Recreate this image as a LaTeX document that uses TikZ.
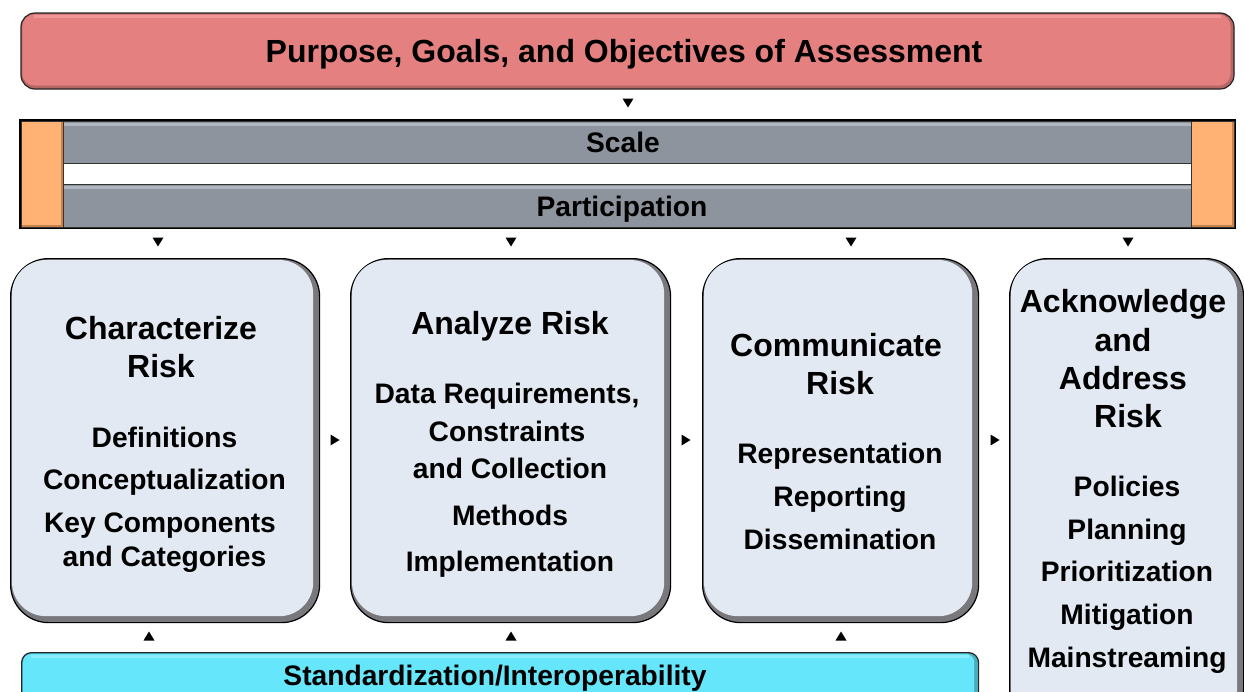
\documentclass[tikz,border=0pt]{standalone}
\usepackage{fontspec}
\setmainfont{Liberation Sans}
\usetikzlibrary{calc}
\definecolor{titlered}{RGB}{229,128,128}
\definecolor{titlehi}{RGB}{240,150,150}
\definecolor{bargray}{RGB}{142,148,157}
\definecolor{barhi}{RGB}{176,182,192}
\definecolor{orng}{RGB}{255,178,115}
\definecolor{orngdk}{RGB}{200,130,75}
\definecolor{boxfill}{RGB}{227,233,242}
\definecolor{boxrim}{RGB}{120,120,125}
\definecolor{cyanbox}{RGB}{102,230,250}
\definecolor{cyanhi}{RGB}{140,238,252}
\tikzset{
  hd/.style={font=\fontsize{32}{38}\selectfont\bfseries, anchor=base, inner sep=0pt},
  itm/.style={font=\fontsize{28.2}{34}\selectfont\bfseries, anchor=base, inner sep=0pt},
  bartxt/.style={font=\fontsize{28.2}{34}\selectfont\bfseries, anchor=base, inner sep=0pt},
  stepbox/.style={draw=black, line width=1.2pt, rectangle, rounded corners=38pt, fill=boxrim},
  titlebox/.style={draw=black!85, line width=1.2pt, rectangle, rounded corners=14pt, fill=titlered!80!black},
  graybar/.style={draw=black!80, line width=1pt, rectangle, fill=bargray},
  sidebar/.style={draw=black!80, line width=1pt, rectangle, fill=orngdk},
  cyanframe/.style={draw=black!85, line width=1.2pt, rectangle, rounded corners=10pt, fill=cyanbox!75!black},
  tipfill/.style={fill=black}
}
\begin{document}
\begin{tikzpicture}[x=1pt,y=-1pt]
\useasboundingbox (0,0) rectangle (1244,691);
\clip (0,0) rectangle (1244,691);

% title
\node[titlebox, minimum width=1213, minimum height=76] (title) at (627.5,51) {};
\fill[titlered, rounded corners=12pt] ($(title.north west)+(2,2)$) rectangle ($(title.south east)+(-4,-4)$);
\fill[titlehi] ($(title.north west)+(14,3)$) rectangle ($(title.north east)+(-14,6)$);
\node[font=\fontsize{32}{38}\selectfont\bfseries, inner sep=0pt, anchor=base] (titletxt) at (624,62) {Purpose, Goals, and Objectives of Assessment};

% bars frame
\node[draw=black, line width=1.2pt, rectangle, minimum width=1215, minimum height=108, fill=white] (bars) at (627.5,174) {};
\node[sidebar, minimum width=42, minimum height=106, anchor=north west] (lside) at (21,121) {};
\fill[orng] ($(lside.north west)+(1,1)$) rectangle ($(lside.south east)+(-3,-3)$);
\node[sidebar, minimum width=43, minimum height=106, anchor=north west] (rside) at (1191,121) {};
\fill[orng] ($(rside.north west)+(1,1)$) rectangle ($(rside.south east)+(-3,-3)$);
\node[graybar, minimum width=1128, minimum height=42, anchor=north west] (scale) at (63,121) {};
\fill[barhi] ($(scale.north west)+(1,2)$) rectangle ($(scale.north east)+(-1,5)$);
\node[bartxt] (scaletxt) at (623,152) {Scale};
\node[graybar, minimum width=1128, minimum height=43, anchor=north west] (part) at (63,184) {};
\fill[barhi] ($(part.north west)+(1,2)$) rectangle ($(part.north east)+(-1,5)$);
\node[bartxt] (parttxt) at (622,216) {Participation};

% step boxes
\node[stepbox, minimum width=309, minimum height=364, anchor=north west] (b1) at (10,258) {};
\node[stepbox, minimum width=320, minimum height=364, anchor=north west] (b2) at (350,258) {};
\node[stepbox, minimum width=276, minimum height=364, anchor=north west] (b3) at (702,258) {};
\node[stepbox, minimum width=234, minimum height=470, anchor=north west] (b4) at (1009,258) {};
\foreach \b in {b1,b2,b3,b4}{
  \fill[boxfill, rounded corners=34pt] ($(\b.north west)+(2,2)$) rectangle ($(\b.south east)+(-7,-7)$);
}

% cyan bar
\node[cyanframe, minimum width=957, minimum height=70, anchor=north west] (std) at (21,652) {};
\fill[cyanbox, rounded corners=8pt] ($(std.north west)+(2,2)$) rectangle ($(std.south east)+(-5,-5)$);
\fill[cyanhi] ($(std.north west)+(10,3)$) rectangle ($(std.north east)+(-10,6)$);
\node[bartxt] (stdtxt) at (495,685) {Standardization/Interoperability};

% box 1 text
\node[hd] (h1a) at (161,339) {Characterize};
\node[hd] (h1b) at (161,377) {Risk};
\node[itm] (i1a) at (164.5,447) {Definitions};
\node[itm] (i1b) at (164.5,489) {Conceptualization};
\node[itm] (i1c) at (160,532) {Key Components};
\node[itm] (i1d) at (164.5,566) {and Categories};

% box 2 text
\node[hd] (h2a) at (510,334) {Analyze Risk};
\node[itm] (i2a) at (507,403) {Data Requirements,};
\node[itm] (i2b) at (507,441) {Constraints};
\node[itm] (i2c) at (510,478) {and Collection};
\node[itm] (i2d) at (510,525) {Methods};
\node[itm] (i2e) at (510,571) {Implementation};

% box 3 text
\node[hd] (h3a) at (836,356) {Communicate};
\node[hd] (h3b) at (840,394) {Risk};
\node[itm] (i3a) at (840,463) {Representation};
\node[itm] (i3b) at (840,506) {Reporting};
\node[itm] (i3c) at (840,549) {Dissemination};

% box 4 text
\node[hd] (h4a) at (1123,312) {Acknowledge};
\node[hd] (h4b) at (1123,351) {and};
\node[hd] (h4c) at (1123,389) {Address};
\node[hd] (h4d) at (1128,427) {Risk};
\node[itm] (i4a) at (1127,496) {Policies};
\node[itm] (i4b) at (1127,539) {Planning};
\node[itm] (i4c) at (1127,581) {Prioritization};
\node[itm] (i4d) at (1127,624) {Mitigation};
\node[itm] (i4e) at (1127,667) {Mainstreaming};

% arrow tips (down)
\coordinate (t0) at (628,103);
\coordinate (d1) at (158,242);
\coordinate (d2) at (511,242);
\coordinate (d3) at (851,242);
\coordinate (d4) at (1128,242);
\foreach \c in {t0,d1,d2,d3,d4}{
  \fill[tipfill] ($(\c)+(-5.5,-4.5)$) -- ($(\c)+(5.5,-4.5)$) -- ($(\c)+(0,4.5)$) -- cycle;
}
% arrow tips (right)
\coordinate (r1) at (335,440);
\coordinate (r2) at (686,440);
\coordinate (r3) at (995,440);
\foreach \c in {r1,r2,r3}{
  \fill[tipfill] ($(\c)+(-4.5,-5.5)$) -- ($(\c)+(-4.5,5.5)$) -- ($(\c)+(4.5,0)$) -- cycle;
}
% arrow tips (up)
\coordinate (u1) at (149,636);
\coordinate (u2) at (511,636);
\coordinate (u3) at (841,636);
\foreach \c in {u1,u2,u3}{
  \fill[tipfill] ($(\c)+(-5.5,4.5)$) -- ($(\c)+(5.5,4.5)$) -- ($(\c)+(0,-4.5)$) -- cycle;
}
\end{tikzpicture}
\end{document}
